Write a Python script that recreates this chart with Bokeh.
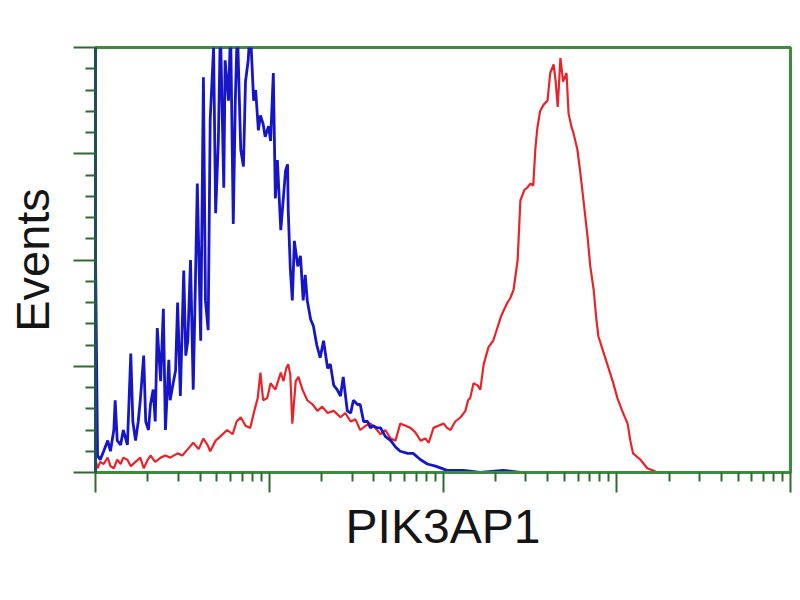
import math

from bokeh.embed import file_html
from bokeh.models import CustomJSTickFormatter, FixedTicker, Range1d
from bokeh.plotting import figure
from bokeh.resources import INLINE

# histogram channels (1024 channels over 4 log decades) and event counts
blue_channel = [0, 0, 3, 7, 12, 18, 22, 27, 29, 32, 37, 41, 47, 52, 55, 59, 63, 66, 71, 74, 78,
                81, 85, 88, 91, 96, 100, 103, 108, 110, 115, 118, 121, 125, 130, 133, 136, 140,
                144, 147, 150, 155, 159, 162, 166, 169, 174, 177, 181, 184, 189, 191, 196, 199,
                203, 206, 209, 214, 218, 221, 225, 228, 233, 236, 240, 243, 247, 250, 255, 258,
                262, 265, 268, 273, 277, 280, 283, 284, 287, 290, 293, 298, 302, 306, 309, 312,
                317, 321, 326, 331, 336, 342, 346, 351, 356, 361, 365, 371, 376, 380, 386, 390,
                395, 401, 405, 409, 415, 420, 427, 435, 442, 449, 460, 468, 479, 489, 501, 518,
                542, 567, 601, 626, 656, 675]
blue_events = [0, 103, 8, 6, 10, 15, 10, 20, 34, 15, 13, 20, 13, 56, 24, 15, 24, 34, 55, 24, 20,
               32, 39, 24, 68, 43, 77, 20, 53, 34, 43, 48, 80, 36, 95, 55, 62, 100,
               39, 86, 136, 62, 186, 81, 67, 166, 200, 122, 156, 210, 134, 194, 175, 210,
               117, 175, 210, 152, 144, 184, 194, 210, 175, 180, 161, 168, 164, 158, 163, 156,
               188, 129, 147, 114, 130, 142, 145, 123, 96, 81, 109, 97, 102, 81, 93, 81,
               72, 69, 60, 54, 62, 49, 51, 41, 39, 36, 45, 29, 28, 34, 32, 32,
               24, 24, 21, 22, 21, 21, 17, 15, 12, 10, 9, 9, 6, 4, 3, 1,
               1, 0, 1, 0, 0, 0]

red_channel = [0, 3, 7, 12, 18, 22, 27, 32, 37, 41, 47, 52, 59, 66, 71, 77, 81, 88, 96, 103, 110,
               121, 128, 136, 144, 152, 159, 165, 169, 177, 184, 194, 202, 208, 214, 221, 228,
               234, 239, 243, 247, 253, 258, 265, 273, 277, 281, 284, 287, 290, 295, 299, 305,
               312, 320, 327, 334, 342, 351, 361, 368, 376, 383, 390, 398, 405, 412, 420, 427,
               435, 442, 449, 457, 464, 471, 479, 486, 491, 498, 505, 513, 518, 523, 530, 538,
               545, 549, 552, 557, 563, 567, 572, 579, 586, 592, 597, 601, 607, 611, 616, 622,
               626, 632, 636, 641, 645, 648, 651, 655, 660, 666, 670, 675, 678, 681, 685, 689,
               694, 697, 701, 704, 710, 714, 719, 725, 729, 734, 738, 741, 748, 754, 762, 769,
               776, 784, 788, 792, 803, 813, 821, 828, 840]
red_events = [6, 2, 5, 4, 7, 3, 2, 6, 4, 7, 6, 3, 5, 7, 2, 6, 8, 5, 7, 8, 7,
              9, 8, 11, 14, 11, 16, 13, 10, 15, 17, 20, 18, 24, 26, 22, 21,
              29, 35, 47, 34, 35, 42, 39, 47, 43, 49, 51, 46, 23, 43, 45, 39,
              34, 32, 29, 31, 28, 29, 26, 28, 24, 25, 20, 22, 23, 21, 18, 20,
              16, 15, 23, 22, 21, 19, 15, 16, 14, 21, 22, 23, 21, 20, 24, 26,
              29, 34, 35, 42, 41, 39, 51, 59, 62, 68, 73, 76, 80, 82, 86, 100,
              128, 133, 134, 136, 135, 152, 162, 170, 173, 175, 188, 192, 184, 172, 195, 184,
              188, 169, 163, 160, 152, 142, 128, 111, 97, 86, 72, 64, 57, 51, 43, 35,
              29, 23, 15, 9, 6, 2, 1, 0, 0]

decade_ticks = [0, 256, 512, 768, 1024]
event_ticks = [0, 50, 100, 150, 200]

green = "#3d8c3d"

p = figure(width=792, height=592, x_range=Range1d(0, 1024), y_range=Range1d(0, 200),
           output_backend="svg", toolbar_location=None,
           min_border_left=95, min_border_right=2, min_border_top=47, min_border_bottom=120)

p.grid.visible = False
p.outline_line_color = green
p.outline_line_width = 3

# log decade minor ticks (2..9 within each decade)
minor_x = [d + 256 * math.log10(k) for d in decade_ticks[:-1] for k in range(2, 10)]
minor_y = [v for v in range(0, 201, 10) if v % 50]

p.xaxis.ticker = FixedTicker(ticks=decade_ticks, minor_ticks=minor_x)
p.yaxis.ticker = FixedTicker(ticks=event_ticks, minor_ticks=minor_y)

for ax in (p.xaxis, p.yaxis):
    ax.formatter = CustomJSTickFormatter(code="return ''")
    ax.major_label_standoff = 0
    ax.major_tick_in = 0
    ax.minor_tick_in = 0
    ax.major_tick_line_color = "#2f6a2f"
    ax.minor_tick_line_color = "#2f6a2f"
    ax.major_tick_line_width = 2
    ax.minor_tick_line_width = 2
    ax.axis_line_width = 3
    ax.axis_label_text_font = "Liberation Sans"
    ax.axis_label_text_font_style = "normal"
    ax.axis_label_text_color = "#151515"

p.xaxis.axis_label = "PIK3AP1"
p.xaxis.axis_label_text_font_size = "48px"
p.xaxis.axis_label_standoff = 7
p.xaxis.major_tick_out = 20
p.xaxis.minor_tick_out = 9
p.xaxis.axis_line_color = green

p.yaxis.axis_label = "Events"
p.yaxis.axis_label_text_font_size = "47px"
p.yaxis.axis_label_standoff = 15
p.yaxis.major_tick_out = 22
p.yaxis.minor_tick_out = 10
p.yaxis.axis_line_color = "#1f4e5a"

p.line(red_channel, red_events, line_color="#e8242a", line_width=2.2)
p.line(blue_channel, blue_events, line_color="#1616c8", line_width=2.8)

open("out.html", "w").write(file_html(p, INLINE))
